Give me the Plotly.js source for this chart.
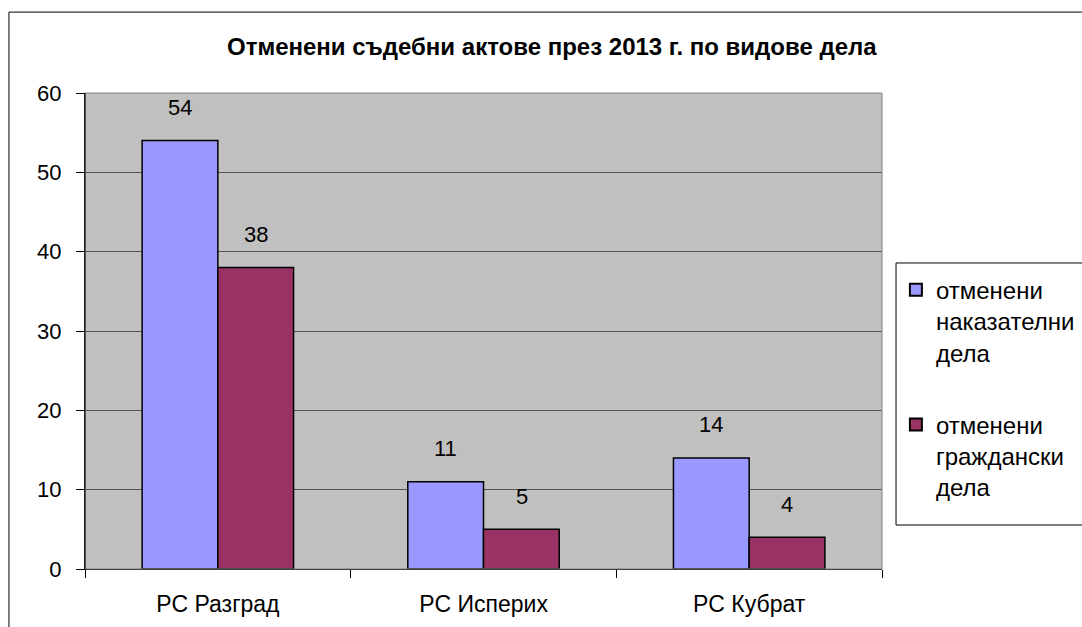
<!DOCTYPE html>
<html>
<head>
<meta charset="utf-8">
<script src="https://cdn.plot.ly/plotly-3.0.1.min.js"></script>
<style>html,body{margin:0;padding:0;background:#fff;overflow:hidden;}#chart{width:1082px;height:627px;}</style>
</head>
<body>
<div id="chart"></div>
<script>
const categories = ["PC Разград", "PC Исперих", "PC Кубрат"];
const seriesNames = ["отменени<br>наказателни<br>дела", "отменени<br>граждански<br>дела"];
const criminal = [54, 11, 14];
const civil = [38, 5, 4];
const yTicks = [0, 10, 20, 30, 40, 50, 60];
const titleText = "Отменени съдебни актове през 2013 г. по видове дела";

const font = "Liberation Sans, Arial, sans-serif";
const traces = [
  {type: "bar", x: categories, y: criminal, name: seriesNames[0], legendgroup: "g1",
   marker: {color: "#9999FF", line: {color: "#000", width: 1.5}}},
  {type: "bar", x: categories, y: civil, name: seriesNames[1], legendgroup: "g2",
   marker: {color: "#993366", line: {color: "#000", width: 1.5}}}
];
const annotations = [];
categories.forEach((c, i) => {
  annotations.push({x: c, y: criminal[i], xref: "x", yref: "y", text: String(criminal[i]), showarrow: false,
    xshift: -38, yshift: 33, yanchor: "middle", font: {size: 22, family: font, color: "#000"}});
  annotations.push({x: c, y: civil[i], xref: "x", yref: "y", text: String(civil[i]), showarrow: false,
    xshift: 38, yshift: 33, yanchor: "middle", font: {size: 22, family: font, color: "#000"}});
});
const layout = {
  width: 1082, height: 627,
  margin: {l: 85, r: 200, t: 93, b: 58},
  paper_bgcolor: "#fff", plot_bgcolor: "#C0C0C0",
  font: {family: font, size: 22, color: "#000"},
  title: {text: "<b>" + titleText + "</b>", font: {size: 24, family: font}, x: 0.51, xanchor: "center", y: 0.925, yanchor: "middle"},
  barmode: "group", bargap: 0.43, bargroupgap: 0,
  showlegend: true,
  legend: {xref: "container", yref: "container", x: 0.828, y: 0.573, xanchor: "left", yanchor: "top",
           bgcolor: "rgba(0,0,0,0)", borderwidth: 0,
           font: {size: 24, family: font}, tracegroupgap: 38, itemsizing: "constant", valign: "top"},
  xaxis: {type: "category", tickson: "boundaries", ticks: "outside", ticklen: 8, tickcolor: "#000",
          showline: true, linecolor: "#000", linewidth: 1, showgrid: false,
          tickfont: {size: 23, family: font}, ticklabelstandoff: 14},
  yaxis: {range: [0, 60], tickvals: yTicks, ticks: "outside", ticklen: 8, tickcolor: "#000",
          showline: true, linecolor: "#000", linewidth: 1, showgrid: true, gridcolor: "#555", gridwidth: 1,
          zeroline: false, tickfont: {size: 22, family: font}, ticklabelstandoff: 10},
  annotations: annotations,
  shapes: [
    {type: "rect", xref: "paper", yref: "paper", x0: 0, x1: 1, y0: 0, y1: 1, line: {color: "#808080", width: 1}, layer: "above"},
    {type: "line", xref: "paper", yref: "paper", x0: 0, x1: 0, y0: 0, y1: 1, line: {color: "#000", width: 1}},
    {type: "rect", xref: "paper", yref: "paper", x0: -0.0954, x1: 1.3, y0: -0.2, y1: 1.17, line: {color: "#000", width: 1}, fillcolor: "rgba(0,0,0,0)", layer: "below"},
    {type: "rect", xref: "paper", yref: "paper", x0: 1.0176, x1: 1.3, y0: 0.0924, y1: 0.6429, line: {color: "#000", width: 1}, fillcolor: "#fff", layer: "below"}
  ]
};
Plotly.newPlot("chart", traces, layout, {displayModeBar: false, staticPlot: true});
</script>
</body>
</html>
